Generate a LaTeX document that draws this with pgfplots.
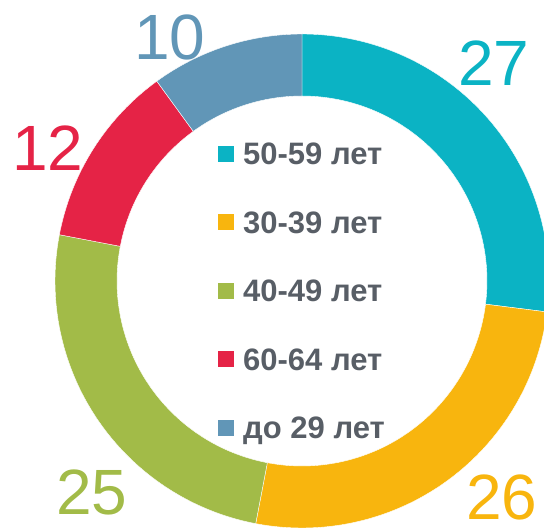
\documentclass[border=0pt]{standalone}
\usepackage{pgfplots}
\usepackage{pgfplotstable}
\pgfplotsset{compat=1.18}
\usepackage{fontspec}
\setmainfont{Liberation Sans}
\definecolor{cA}{HTML}{0BB3C4}
\definecolor{cB}{HTML}{F8B50E}
\definecolor{cC}{HTML}{A2BB48}
\definecolor{cD}{HTML}{E52346}
\definecolor{cE}{HTML}{6196B7}
\definecolor{txt}{HTML}{585E66}
\pgfplotstableread{
idx value
0 27
1 26
2 25
3 12
4 10
}\data
\pgfplotstablegetelem{0}{value}\of\data \pgfmathsetmacro\eA{90-3.6*\pgfplotsretval}%
\pgfplotstablegetelem{1}{value}\of\data \pgfmathsetmacro\eB{\eA-3.6*\pgfplotsretval}%
\pgfplotstablegetelem{2}{value}\of\data \pgfmathsetmacro\eC{\eB-3.6*\pgfplotsretval}%
\pgfplotstablegetelem{3}{value}\of\data \pgfmathsetmacro\eD{\eC-3.6*\pgfplotsretval}%
\pgfplotstablegetelem{4}{value}\of\data \pgfmathsetmacro\eE{\eD-3.6*\pgfplotsretval}%
\newcommand\seg[3]{%
  \fill[#3, draw=white, line width=0.4pt] ([shift={(#1:247pt)}]axis cs:302,247) arc[start angle=#1, end angle=#2, radius=247pt]
   -- ([shift={(#2:185pt)}]axis cs:302,247) arc[start angle=#2, end angle=#1, radius=185pt] -- cycle;}
\begin{document}%
\begin{tikzpicture}
\begin{axis}[
  width=544pt, height=528pt, scale only axis,
  xmin=0, xmax=544, ymin=0, ymax=528,
  hide axis, clip=true,
]
\addplot[draw=none] coordinates {(0,0) (544,528)};
\seg{90}{\eA}{cA}
\seg{\eA}{\eB}{cB}
\seg{\eB}{\eC}{cC}
\seg{\eC}{\eD}{cD}
\seg{\eD}{\eE}{cE}
\begin{scope}[every node/.style={inner sep=0pt, font=\fontsize{64}{64}\selectfont}]
\node[text=cE] at (axis cs:170,491) {10};
\node[text=cA] at (axis cs:494,465) {27};
\node[text=cD] at (axis cs:48,380) {12};
\node[text=cC] at (axis cs:92,36) {25};
\node[text=cB] at (axis cs:502,31) {26};
\end{scope}
\begin{scope}[every node/.style={inner sep=0pt, anchor=base west, text=txt, font=\fontsize{31}{31}\selectfont\bfseries}]
\fill[cA] (axis cs:218,366) rectangle (axis cs:234,382);
\node at (axis cs:243,363) {50-59 лет};
\fill[cB] (axis cs:218,297.5) rectangle (axis cs:234,313.5);
\node at (axis cs:243,294.5) {30-39 лет};
\fill[cC] (axis cs:218,229) rectangle (axis cs:234,245);
\node at (axis cs:243,226) {40-49 лет};
\fill[cD] (axis cs:218,160.5) rectangle (axis cs:234,176.5);
\node at (axis cs:243,157.5) {60-64 лет};
\fill[cE] (axis cs:218,92) rectangle (axis cs:234,108);
\node at (axis cs:243,89) {до 29 лет};
\end{scope}
\end{axis}
\pgfresetboundingbox
\path (current axis.south west) rectangle (current axis.north east);
\end{tikzpicture}%
\end{document}
